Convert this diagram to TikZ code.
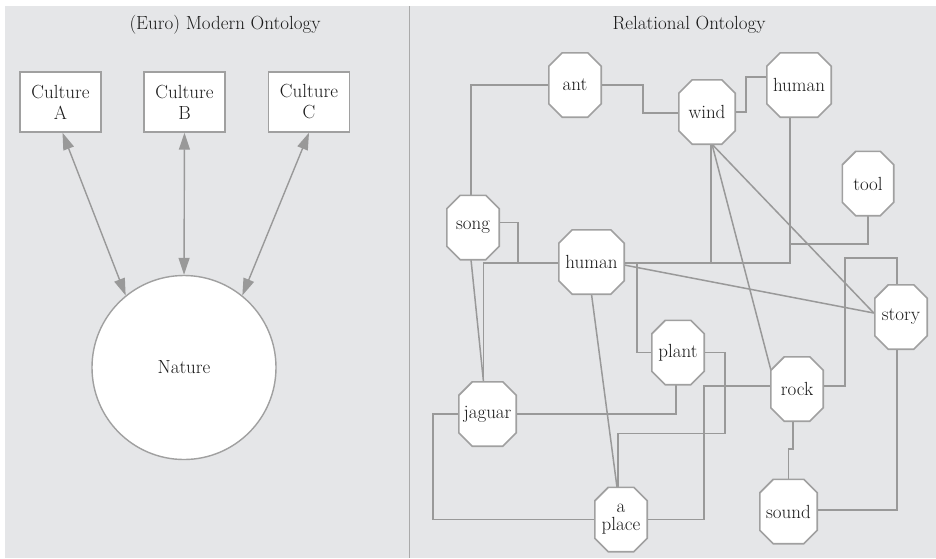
\documentclass[tikz,border=0pt]{standalone}
\usepackage{fontspec}
\usetikzlibrary{calc,arrows.meta}
\definecolor{bgGray}{HTML}{E5E6E8}
\definecolor{edgeGray}{HTML}{999999}
\definecolor{boxGray}{HTML}{A0A0A0}
\definecolor{divGray}{HTML}{AAAAAA}
\definecolor{txt}{HTML}{1A1A1A}
\pgfdeclarelayer{bg}
\pgfdeclarelayer{edges}
\pgfdeclarelayer{octs}
\pgfsetlayers{bg,edges,octs,main}
\newcommand\chf{13.5}
\newcommand\octnode[4]{%
  \node[octtext, minimum width=#3pt] (#1) at (#2) {#4};
  \begin{pgfonlayer}{octs}
    \path[octshape] ($(#1.north west)+(\chf,0)$) -- ($(#1.north east)+(-\chf,0)$)
      -- ($(#1.north east)+(0,\chf)$) -- ($(#1.south east)+(0,-\chf)$)
      -- ($(#1.south east)+(-\chf,0)$) -- ($(#1.south west)+(\chf,0)$)
      -- ($(#1.south west)+(0,-\chf)$) -- ($(#1.north west)+(0,\chf)$) -- cycle;
  \end{pgfonlayer}}
\tikzset{
  octtext/.style={shape=rectangle, inner sep=0pt, minimum height=64pt,
    font=\fontsize{19}{18}\selectfont, text=txt, align=center},
  octshape/.style={fill=white, draw=boxGray, line width=1.6pt, line join=miter},
  link/.style={draw=edgeGray, line width=1.5pt},
  culturebox/.style={draw=boxGray, fill=white, line width=1.4pt, minimum width=81pt,
    minimum height=60pt, inner sep=0pt, align=center,
    font=\fontsize{19}{21}\selectfont, text=txt},
  naturecircle/.style={circle, draw=boxGray, fill=white, line width=1.4pt,
    minimum size=184pt, inner sep=0pt, font=\fontsize{19}{21}\selectfont, text=txt},
  twoway/.style={draw=edgeGray, line width=1.4pt,
    {Triangle[length=17pt,width=11pt]}-{Triangle[length=17pt,width=11pt]}},
  paneltitle/.style={font=\fontsize{19}{21}\selectfont, text=txt, inner sep=0pt}
}
\begin{document}
\begin{tikzpicture}[x=1pt,y=-1pt]
\useasboundingbox (0,0) rectangle (936,558);
\begin{pgfonlayer}{bg}
  \fill[bgGray] (5,6) rectangle (936,558);
  \draw[divGray, line width=1.6pt] (409.5,6) -- (409.5,558);
\end{pgfonlayer}

% ---------- left panel ----------
\node[paneltitle] (ltitle) at (225,25) {(Euro) Modern Ontology};
\node[culturebox] (cA) at (60.5,102) {Culture\\A};
\node[culturebox] (cB) at (184.5,102) {Culture\\B};
\node[culturebox] (cC) at (309,102) {Culture\\C};
\node[naturecircle] (nature) at (184,367.5) {Nature};
\draw[twoway] ($(cA.south)+(2,0)$) -- (nature.129);
\draw[twoway] (cB.south) -- (nature.north);
\draw[twoway] (cC.south) -- (nature.51);

% ---------- right panel ----------
\node[paneltitle] (rtitle) at (689,25) {Relational Ontology};
\octnode{ant}{575,85}{52}{ant}
\octnode{wind}{707,112}{56}{wind}
\octnode{humanT}{799,85}{64}{human}
\octnode{tool}{868,183.5}{51}{tool}
\octnode{song}{473,227.5}{52}{song}
\octnode{humanM}{591.5,262}{65}{human}
\octnode{story}{901,317}{52}{story}
\octnode{plant}{678,352.5}{52}{plant}
\octnode{rock}{797,389}{52}{rock}
\octnode{jaguar}{487.5,414}{57}{jaguar}
\octnode{aplace}{621,519.5}{52}{a\\place}
\octnode{sound}{788.5,511.5}{57}{sound}

\coordinate (hTdown) at ($(humanT.south)+(-9,0)$);
\coordinate (toolJ) at ($(hTdown)+(0,127)$);
\coordinate (storyTop) at ($(story.north)+(-4,0)$);
\coordinate (storyLoop) at ($(storyTop)+(0,-27)$);
\coordinate (placeTop) at ($(aplace.north)+(-3,0)$);
\coordinate (placeJog) at ($(placeTop)+(0,-54)$);

\begin{pgfonlayer}{edges}
  \draw[link] (ant.west) -| ($(song.north)+(-2,0)$);
  \draw[link] (ant.east) -- ++(42,0) |- ($(wind.west)+(0,1)$);
  \draw[link] (wind.east) -- ++(11,0) |- ($(humanT.west)+(0,-8)$);
  \draw[link] (hTdown) |- ($(humanM.east)+(0,1)$);
  \draw[link] (tool.south) |- (toolJ);
  \draw[link] ($(wind.south)+(4,0)$) -- ($(wind.south)+(4,119)$);
  \draw[link] ($(song.east)+(0,-5)$) -- ++(19,0) |- ($(humanM.west)+(0,1)$);
  \draw[link] ($(jaguar.north)+(-4,0)$) |- ($(humanM.west)+(0,1)$);
  \draw[link] ($(song.south)+(-2,0)$) -- ($(jaguar.north)+(-4,0)$);
  \draw[link] ($(humanM.east)+(13,1)$) |- (plant.west);
  \draw[link] ($(humanM.east)+(0,3)$) -- ($(story.west)+(-1,-4)$);
  \draw[link] ($(wind.south)+(5,0)$) -- ($(story.west)+(-1,-4)$);
  \draw[link] ($(wind.south)+(5,0)$) -- ($(rock.north west)+(0,13)$);
  \draw[link] ($(rock.east)+(0,-3)$) -- ++(22,0) |- (storyLoop) -- (storyTop);
  \draw[link] ($(story.south)+(-4,0)$) |- ($(sound.east)+(0,-1.5)$);
  \draw[link] ($(rock.south)+(-4,0)$) -- ++(0,28) -| (sound.north);
  \draw[link] ($(rock.west)+(0,-3)$) -- ++(-67,0) |- (aplace.east);
  \draw[link] (plant.east) -- ++(21,0) |- (placeJog) -- (placeTop);
  \draw[link] ($(plant.south)+(-2,0)$) |- (jaguar.east);
  \draw[link] (jaguar.west) -- ++(-26,0) |- (aplace.west);
  \draw[link] (humanM.south) -- ($(aplace.north)+(-4,0)$);
\end{pgfonlayer}
\end{tikzpicture}
\end{document}
